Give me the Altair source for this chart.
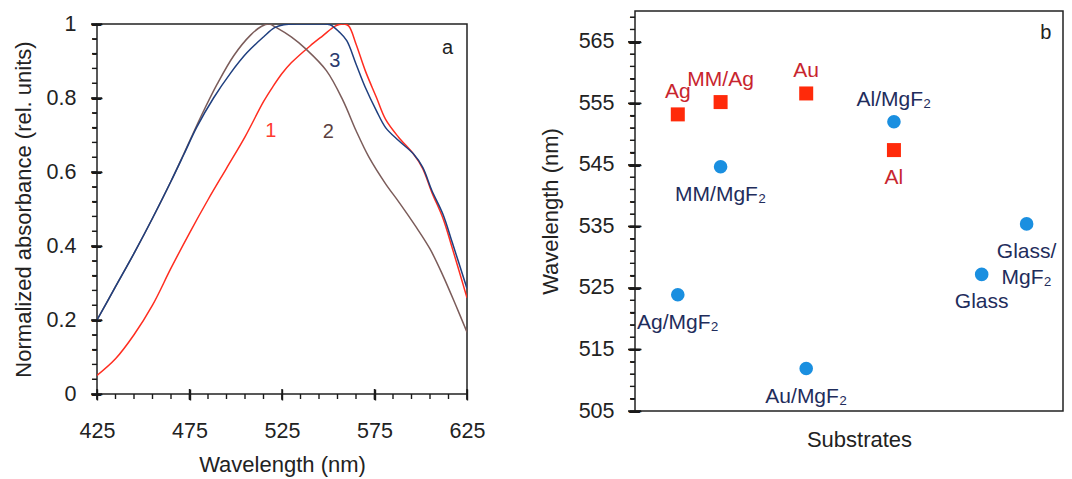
import altair as alt
import pandas as pd

FONT = "Liberation Sans"

# ---------------- panel a: normalized absorbance spectra ----------------
wl_curve1 = [425, 435, 445, 455, 465, 475, 485, 495, 505, 515, 520, 525, 530, 540,
             547, 554, 558, 561, 565, 570, 576, 581, 588, 596, 601, 606, 612, 617, 625]
abs_curve1 = [0.05, 0.095, 0.16, 0.24, 0.34, 0.435, 0.525, 0.61, 0.695, 0.79, 0.83,
              0.866, 0.895, 0.94, 0.968, 0.995, 1.0, 0.995, 0.946, 0.874, 0.802, 0.742,
              0.694, 0.649, 0.61, 0.545, 0.475, 0.395, 0.26]

wl_curve2 = [425, 435, 445, 455, 465, 472, 481, 490, 499, 508, 514, 518, 522, 530, 538,
             549, 558, 565, 572, 581, 588, 597, 605, 612, 619, 625]
abs_curve2 = [0.20, 0.29, 0.38, 0.475, 0.575, 0.65, 0.748, 0.838, 0.915, 0.97, 0.994, 1.0,
              0.99, 0.965, 0.932, 0.874, 0.793, 0.712, 0.64, 0.568, 0.52, 0.455, 0.392,
              0.32, 0.239, 0.167]

wl_curve3 = [425, 435, 445, 455, 465, 472, 479, 488, 497, 506, 515, 521, 526, 535, 545,
             551, 556, 560, 565, 570, 576, 581, 588, 596, 601, 606, 612, 617, 625]
abs_curve3 = [0.20, 0.29, 0.38, 0.475, 0.575, 0.648, 0.722, 0.80, 0.866, 0.922, 0.965, 0.99,
              0.998, 1.0, 1.0, 0.998, 0.978, 0.955, 0.892, 0.829, 0.766, 0.72, 0.685, 0.649,
              0.613, 0.55, 0.486, 0.41, 0.285]

curve_names = ["1", "2", "3"]
curve_line_colors = ["#FF2D20", "#7B5C5A", "#1F3F7F"]
curve_text_colors = ["#FF3B30", "#5B3F3F", "#2A3A6E"]
curve_label_wl = [519, 550, 553.5]
curve_label_abs = [0.711, 0.708, 0.90]

x_minor_ticks_a = list(range(425, 626, 10))
x_major_ticks_a = [425, 475, 525, 575, 625]
y_minor_ticks_a = [0, 0.04, 0.08, 0.12, 0.16, 0.2, 0.24, 0.28, 0.32, 0.36, 0.4, 0.44, 0.48,
                   0.52, 0.56, 0.6, 0.64, 0.68, 0.72, 0.76, 0.8, 0.84, 0.88, 0.92, 0.96, 1]
y_major_ticks_a = [0, 0.2, 0.4, 0.6, 0.8, 1]

# ---------------- panel b: peak wavelength per substrate ----------------
metal_names = ["Ag", "MM/Ag", "Au", "Al"]
metal_pos = [1, 2, 4, 6.05]
metal_peak = [553.2, 555.2, 556.6, 547.4]
metal_side = ["above", "above", "above", "below"]

coated_names = ["Ag/MgF₂", "MM/MgF₂", "Au/MgF₂", "Al/MgF₂", "Glass", "Glass/\nMgF₂"]
coated_pos = [1, 2, 4, 6.05, 8.1, 9.15]
coated_peak = [523.9, 544.7, 511.9, 552.0, 527.2, 535.4]
coated_side = ["below", "below", "below", "above", "below", "below"]

y_minor_ticks_b = list(range(505, 571, 2))
y_major_ticks_b = [505, 515, 525, 535, 545, 555, 565]

TICK = "#1a1a1a"

# ---------------- build panel a ----------------
rows = []
for name, wl, ab in zip(curve_names, [wl_curve1, wl_curve2, wl_curve3],
                        [abs_curve1, abs_curve2, abs_curve3]):
    for w, a in zip(wl, ab):
        rows.append({"curve": name, "wl": w, "abs": a})
curves = pd.DataFrame(rows)
curve_labels = pd.DataFrame({"curve": curve_names, "wl": curve_label_wl, "abs": curve_label_abs})
panel_a_tag = pd.DataFrame({"tag": ["a"], "wl": [614.5], "abs": [0.935]})

XA_DOMAIN = [425, 625]
XB_DOMAIN = [0, 10]
xs_a = alt.Scale(domain=XA_DOMAIN, nice=False, zero=False)
ys_a = alt.Scale(domain=[0, 1], nice=False, zero=False)

x_major_a = alt.Axis(values=x_major_ticks_a, format="d", ticks=True, tickSize=11, offset=-5,
                     tickColor=TICK, tickWidth=1.4,
                     labelPadding=20, labelFlush=False, labelOverlap=False, domain=False,
                     grid=False, title="Wavelength (nm)", titlePadding=13, orient="bottom")
y_major_a = alt.Axis(values=y_major_ticks_a, format="~g", ticks=True, tickSize=11, offset=-5,
                     tickColor=TICK, tickWidth=1.4,
                     labelPadding=15, labelOverlap=False, domain=False, grid=False,
                     title="Normalized absorbance (rel. units)", titlePadding=11,
                     orient="left")

lines = alt.Chart(curves).mark_line(strokeWidth=1.5, interpolate="catmull-rom",
                                    clip=True).encode(
    x=alt.X("wl:Q", scale=xs_a, axis=None),
    y=alt.Y("abs:Q", scale=ys_a, axis=None),
    color=alt.Color("curve:N", scale=alt.Scale(domain=curve_names, range=curve_line_colors),
                    legend=None),
    order=alt.Order("wl:Q"),
)
num_labels = alt.Chart(curve_labels).mark_text(font=FONT, fontSize=20).encode(
    x=alt.X("wl:Q", scale=xs_a, axis=x_major_a),
    y=alt.Y("abs:Q", scale=ys_a, axis=y_major_a),
    text="curve:N",
    color=alt.Color("curve:N", scale=alt.Scale(domain=curve_names, range=curve_text_colors),
                    legend=None),
)
tag_a = alt.Chart(panel_a_tag).mark_text(font=FONT, fontSize=20, color="#222").encode(
    x=alt.X("wl:Q", scale=xs_a, axis=None),
    y=alt.Y("abs:Q", scale=ys_a, axis=None),
    text="tag:N",
)


# tick marks drawn from the tick value lists through the scales
def x_ticks(values, scale, y_from, y_to):
    return alt.Chart(pd.DataFrame({"t": values})).mark_rule(
        color=TICK, strokeWidth=1.4, clip=False).encode(
        x=alt.X("t:Q", scale=scale, axis=None), y=alt.value(y_from), y2=alt.value(y_to))


def y_ticks(values, xscale, xmin, yscale, off_from, off_to):
    # horizontal stubs anchored on the left edge of the plot (x = domain minimum)
    return alt.Chart(pd.DataFrame({"t": values, "edge": [xmin] * len(values)})).mark_rule(
        color=TICK, strokeWidth=1.4, clip=False, xOffset=off_from, x2Offset=off_to).encode(
        y=alt.Y("t:Q", scale=yscale, axis=None),
        x=alt.X("edge:Q", scale=xscale, axis=None),
        x2=alt.X2("edge:Q"))


def y_dash_ticks(values, xscale, xmin, yscale, size, shift):
    # the same stubs drawn as dash glyphs (text marks) on the left edge
    return alt.Chart(pd.DataFrame({"t": values, "edge": [xmin] * len(values)})).mark_text(
        text="–", font=FONT, fontSize=size, fontWeight="bold", color=TICK,
        align="center", baseline="middle", dx=shift, clip=False).encode(
        y=alt.Y("t:Q", scale=yscale, axis=None),
        x=alt.X("edge:Q", scale=xscale, axis=None))


H_A = 370
ticks_a = [
    x_ticks(x_minor_ticks_a, xs_a, H_A, H_A + 5),
    x_ticks(x_major_ticks_a, xs_a, H_A - 5, H_A + 6),
    y_ticks(y_minor_ticks_a, xs_a, XA_DOMAIN[0], ys_a, -5, 0),
    y_ticks(y_major_ticks_a, xs_a, XA_DOMAIN[0], ys_a, -6, 5),
    y_dash_ticks(y_minor_ticks_a, xs_a, XA_DOMAIN[0], ys_a, 9, -2.5),
    y_dash_ticks(y_major_ticks_a, xs_a, XA_DOMAIN[0], ys_a, 19, -0.5),
]

left = alt.layer(lines, num_labels, tag_a, *ticks_a).resolve_axis(
    x="independent", y="independent").resolve_scale(color="independent").properties(
    width=370, height=H_A)

# small invisible spacer that lowers panel a relative to panel b
spacer = alt.Chart(pd.DataFrame({"v": [0]})).mark_point(opacity=0, size=0).encode(
    x=alt.X("v:Q", axis=None), y=alt.Y("v:Q", axis=None)
).properties(width=1, height=1, view=alt.ViewBackground(stroke=None))

left_col = alt.vconcat(spacer, left, spacing=0)

# ---------------- build panel b ----------------
pts = pd.DataFrame({
    "name": metal_names + coated_names,
    "pos": metal_pos + coated_pos,
    "peak": metal_peak + coated_peak,
    "side": metal_side + coated_side,
    "group": ["metal"] * len(metal_names) + ["coated"] * len(coated_names),
})
panel_b_tag = pd.DataFrame({"tag": ["b"], "pos": [9.6], "peak": [566.5]})

xs_b = alt.Scale(domain=XB_DOMAIN, nice=False, zero=False)
ys_b = alt.Scale(domain=[505, 570], nice=False, zero=False)

x_axis_b = alt.Axis(labels=False, ticks=False, domain=False, grid=False, title="Substrates",
                    titlePadding=18, titleX=224, orient="bottom")
y_major_b = alt.Axis(values=y_major_ticks_b, format="d", ticks=True, tickSize=13, offset=-6,
                     tickColor=TICK, tickWidth=1.4,
                     labelPadding=14, labelOverlap=False, domain=False, grid=False,
                     title="Wavelength (nm)", titlePadding=16, orient="left")

group_colors = alt.Scale(domain=["metal", "coated"], range=["#C8252E", "#1F2D5C"])

squares = alt.Chart(pts).transform_filter(alt.datum.group == "metal").mark_square(
    size=196, color="#FF2A0A", opacity=1).encode(
    x=alt.X("pos:Q", scale=xs_b, axis=x_axis_b),
    y=alt.Y("peak:Q", scale=ys_b, axis=None),
)
circles = alt.Chart(pts).transform_filter(alt.datum.group == "coated").mark_circle(
    size=185, color="#1A8FE0", opacity=1).encode(
    x=alt.X("pos:Q", scale=xs_b, axis=None),
    y=alt.Y("peak:Q", scale=ys_b, axis=y_major_b),
)
above = alt.Chart(pts).transform_filter(alt.datum.side == "above").mark_text(
    font=FONT, fontSize=21, baseline="middle", dy=-22).encode(
    x=alt.X("pos:Q", scale=xs_b, axis=None),
    y=alt.Y("peak:Q", scale=ys_b, axis=None),
    text="name:N",
    color=alt.Color("group:N", scale=group_colors, legend=None),
)
below = alt.Chart(pts).transform_filter(alt.datum.side == "below").mark_text(
    font=FONT, fontSize=21, baseline="top", dy=17, lineBreak="\n", lineHeight=26).encode(
    x=alt.X("pos:Q", scale=xs_b, axis=None),
    y=alt.Y("peak:Q", scale=ys_b, axis=None),
    text="name:N",
    color=alt.Color("group:N", scale=group_colors, legend=None),
)
tag_b = alt.Chart(panel_b_tag).mark_text(font=FONT, fontSize=20, color="#222").encode(
    x=alt.X("pos:Q", scale=xs_b, axis=None),
    y=alt.Y("peak:Q", scale=ys_b, axis=None),
    text="tag:N",
)

ticks_b = [
    y_ticks(y_minor_ticks_b, xs_b, XB_DOMAIN[0], ys_b, -5, 0),
    y_ticks(y_major_ticks_b, xs_b, XB_DOMAIN[0], ys_b, -7, 6),
    y_dash_ticks(y_minor_ticks_b, xs_b, XB_DOMAIN[0], ys_b, 9, -2.5),
    y_dash_ticks(y_major_ticks_b, xs_b, XB_DOMAIN[0], ys_b, 22, -0.5),
]

right = alt.layer(squares, circles, above, below, tag_b, *ticks_b).resolve_axis(
    x="independent", y="independent").properties(width=428, height=400)

chart = alt.hconcat(left_col, right, spacing=52).properties(
    padding={"left": 11, "top": 10, "right": 6, "bottom": 0}
).configure_view(stroke="#222", strokeWidth=1.5).configure_axis(
    labelFont=FONT, titleFont=FONT, labelFontSize=21.5, titleFontSize=22,
    labelColor="#222", titleColor="#222", titleFontWeight="normal"
)

chart.save("out.html", embed_options={"renderer": "svg", "actions": False})
